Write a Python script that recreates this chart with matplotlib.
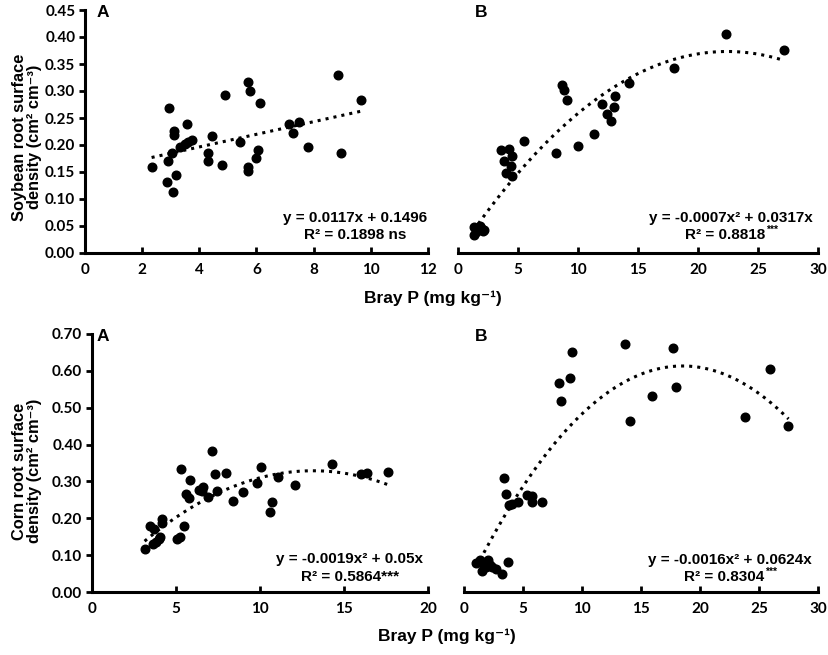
import numpy as np
import matplotlib
matplotlib.use("Agg")
import matplotlib.pyplot as plt
from matplotlib.text import Annotation

# ---------------- data ----------------
soy_a_x = [2.33, 2.95, 2.91, 2.88, 3.09, 3.20, 3.04, 3.12, 3.12, 3.57, 3.34, 3.50, 3.61, 3.74,
           4.29, 4.29, 4.43, 4.79, 4.90, 5.44, 5.69, 5.77, 5.69, 5.69, 5.98, 6.06, 6.13,
           7.12, 7.28, 7.48, 7.81, 8.85, 8.95, 9.65]
soy_a_y = [0.159, 0.268, 0.171, 0.131, 0.113, 0.145, 0.186, 0.225, 0.219, 0.238, 0.197, 0.202, 0.206, 0.209,
           0.185, 0.171, 0.217, 0.163, 0.292, 0.206, 0.317, 0.300, 0.159, 0.152, 0.176, 0.190, 0.277,
           0.238, 0.223, 0.242, 0.197, 0.329, 0.185, 0.283]

soy_b_x = [1.3, 1.36, 1.67, 1.94, 2.2, 1.5, 1.8, 2.1,
           3.61, 4.22, 3.81, 4.53, 4.44, 4.03, 4.53, 5.47, 8.19, 8.67, 8.86, 9.08, 10.0, 11.3,
           12.0, 12.4, 12.75, 13.03, 13.1, 14.22, 18.03, 22.36, 27.14]
soy_b_y = [0.034, 0.049, 0.043, 0.046, 0.043, 0.038, 0.050, 0.040,
           0.190, 0.193, 0.171, 0.179, 0.162, 0.148, 0.143, 0.208, 0.186, 0.311, 0.302, 0.283, 0.198, 0.221,
           0.275, 0.257, 0.245, 0.270, 0.290, 0.314, 0.343, 0.406, 0.376]

corn_a_x = [3.13, 3.47, 3.70, 3.62, 3.82, 3.96, 4.02, 4.16, 4.16, 5.07, 5.25, 5.49, 5.27, 5.60,
            5.80, 5.82, 6.38, 6.59, 6.55, 6.89, 7.15, 7.35, 7.43, 7.96, 8.40, 9.01, 9.84, 10.06,
            10.59, 10.73, 11.09, 12.08, 14.30, 16.0, 16.36, 17.62]
corn_a_y = [0.118, 0.179, 0.172, 0.130, 0.136, 0.145, 0.149, 0.197, 0.188, 0.145, 0.149, 0.179, 0.335, 0.265,
            0.256, 0.305, 0.276, 0.284, 0.274, 0.258, 0.382, 0.319, 0.274, 0.324, 0.248, 0.271, 0.296, 0.340,
            0.216, 0.243, 0.312, 0.290, 0.347, 0.319, 0.322, 0.325]

corn_b_x = [1.05, 1.55, 1.61, 1.84, 2.03, 2.18, 2.40, 2.74, 3.25, 3.70, 1.33,
            3.36, 3.59, 3.81, 4.10, 4.58, 5.34, 5.79, 5.76, 6.64,
            8.02, 8.25, 9.01, 9.12, 13.64, 14.07, 15.9, 17.7, 18.0, 23.84, 25.9, 27.5]
corn_b_y = [0.080, 0.057, 0.077, 0.068, 0.088, 0.072, 0.068, 0.063, 0.050, 0.082, 0.086,
            0.308, 0.265, 0.237, 0.240, 0.245, 0.263, 0.261, 0.245, 0.245,
            0.568, 0.517, 0.580, 0.650, 0.672, 0.463, 0.532, 0.663, 0.555, 0.476, 0.606, 0.450]

eq_line1 = ["y = 0.0117x + 0.1496", "y = -0.0007x² + 0.0317x",
            "y = -0.0019x² + 0.05x", "y = -0.0016x² + 0.0624x"]
eq_line2 = ["R² = 0.1898 ns", "R² = 0.8818", "R² = 0.5864***", "R² = 0.8304"]
eq_sup = ["", "***", "", "***"]

# ---------------- figure ----------------
W, H = 829, 655
fig = plt.figure(figsize=(W / 100, H / 100), dpi=100)

TICKF = dict(family=['Lato', 'DejaVu Sans'], weight='bold', size=11)


def px_axes(x0, x1, ytop, ybot):
    return fig.add_axes([x0 / W, 1 - ybot / H, (x1 - x0) / W, (ybot - ytop) / H])


ax_tl = px_axes(85, 428, 10, 253)
ax_tr = px_axes(458, 818, 10, 253)
ax_bl = px_axes(92, 428, 334, 592)
ax_br = px_axes(464, 818, 334, 592)


def style(ax, xlim, xticks, ylim, yticks, yfmt, show_y):
    ax.set_xlim(*xlim)
    ax.set_ylim(*ylim)
    ax.set_xticks(xticks)
    ax.set_xticklabels([str(t) for t in xticks], **TICKF)
    for s in ['top', 'right']:
        ax.spines[s].set_visible(False)
    ax.spines['bottom'].set_linewidth(2.2)
    ax.spines['left'].set_linewidth(2.2)
    ax.tick_params(axis='x', direction='in', length=4, width=2, pad=7)
    if show_y:
        ax.set_yticks(yticks)
        ax.set_yticklabels([yfmt.format(t) for t in yticks], **TICKF)
        ax.tick_params(axis='y', direction='out', length=4, width=2, pad=3)
    else:
        ax.spines['left'].set_visible(False)
        ax.set_yticks([])
    ax.set_facecolor('none')


style(ax_tl, (0, 12), [0, 2, 4, 6, 8, 10, 12], (0, 0.45), np.arange(0, 0.451, 0.05), "{:.2f}", True)
style(ax_tr, (0, 30), [0, 5, 10, 15, 20, 25, 30], (0, 0.45), [], "", False)
style(ax_bl, (0, 20), [0, 5, 10, 15, 20], (0, 0.70), np.arange(0, 0.701, 0.10), "{:.2f}", True)
style(ax_br, (0, 30), [0, 5, 10, 15, 20, 25, 30], (0, 0.70), [], "", False)

MS = 6.2
ax_tl.plot(soy_a_x, soy_a_y, 'o', color='black', ms=MS, zorder=3)
ax_tr.plot(soy_b_x, soy_b_y, 'o', color='black', ms=MS, zorder=3)
ax_bl.plot(corn_a_x, corn_a_y, 'o', color='black', ms=MS, zorder=3)
ax_br.plot(corn_b_x, corn_b_y, 'o', color='black', ms=MS, zorder=3)


def fit_origin_quad(x, y):
    x = np.asarray(x); y = np.asarray(y)
    A = np.column_stack([x ** 2, x])
    c, *_ = np.linalg.lstsq(A, y, rcond=None)
    return c


# trend lines
xs = np.linspace(min(soy_a_x), max(soy_a_x), 100)
ax_tl.plot(xs, 0.0117 * xs + 0.1496, ':', color='black', lw=2.2)

c = fit_origin_quad(soy_b_x, soy_b_y)
xs = np.linspace(min(soy_b_x), max(soy_b_x), 200)
ax_tr.plot(xs, c[0] * xs ** 2 + c[1] * xs, ':', color='black', lw=2.2)

xs = np.linspace(min(corn_a_x), max(corn_a_x), 200)
ax_bl.plot(xs, -0.0019 * xs ** 2 + 0.05 * xs, ':', color='black', lw=2.2)

c = fit_origin_quad(corn_b_x, corn_b_y)
xs = np.linspace(min(corn_b_x), max(corn_b_x), 200)
ax_br.plot(xs, c[0] * xs ** 2 + c[1] * xs, ':', color='black', lw=2.2)

EQF = dict(family='Liberation Sans', weight='bold', size=11, ha='center', va='center')
eq_pos = [(355, 218, 235), (731, 218, 235), (350, 559, 577), (730, 560, 577)]
for (cx, y1, y2), l1, l2, sup in zip(eq_pos, eq_line1, eq_line2, eq_sup):
    fig.text(cx / W, 1 - y1 / H, l1, **EQF)
    off = -6 if sup else 0
    t2 = fig.text((cx + off) / W, 1 - y2 / H, l2, **EQF)
    if sup:
        fig.add_artist(Annotation(sup, xy=(1.0, 0.85), xycoords=t2, xytext=(1, 0),
                                  textcoords='offset points', family='Liberation Sans',
                                  weight='bold', size=7.5, ha='left', va='center'))

LETF = dict(family='Liberation Sans', weight='bold', size=12.5, ha='left', va='top')
fig.text(97 / W, 1 - 5 / H, "A", **LETF)
fig.text(475 / W, 1 - 5 / H, "B", **LETF)
fig.text(97 / W, 1 - 329 / H, "A", **LETF)
fig.text(475 / W, 1 - 329 / H, "B", **LETF)

XLABF = dict(family=['Liberation Sans', 'DejaVu Sans'], weight='bold', size=12.5)
fig.text(433 / W, 1 - 298 / H, "Bray P (mg kg⁻¹)", ha='center', va='center', **XLABF)
fig.text(447 / W, 1 - 636 / H, "Bray P (mg kg⁻¹)", ha='center', va='center', **XLABF)

LABF = dict(family=['Liberation Sans', 'DejaVu Sans'], weight='bold', size=11.8)
fig.text(27 / W, 1 - 137 / H, "Soybean root surface\ndensity (cm² cm⁻³)", rotation=90,
         ha='center', va='center', multialignment='center', linespacing=0.95, **LABF)
fig.text(27 / W, 1 - 471 / H, "Corn root surface\ndensity (cm² cm⁻³)", rotation=90,
         ha='center', va='center', multialignment='center', linespacing=0.95, **LABF)

fig.savefig("out.png", dpi=100)
